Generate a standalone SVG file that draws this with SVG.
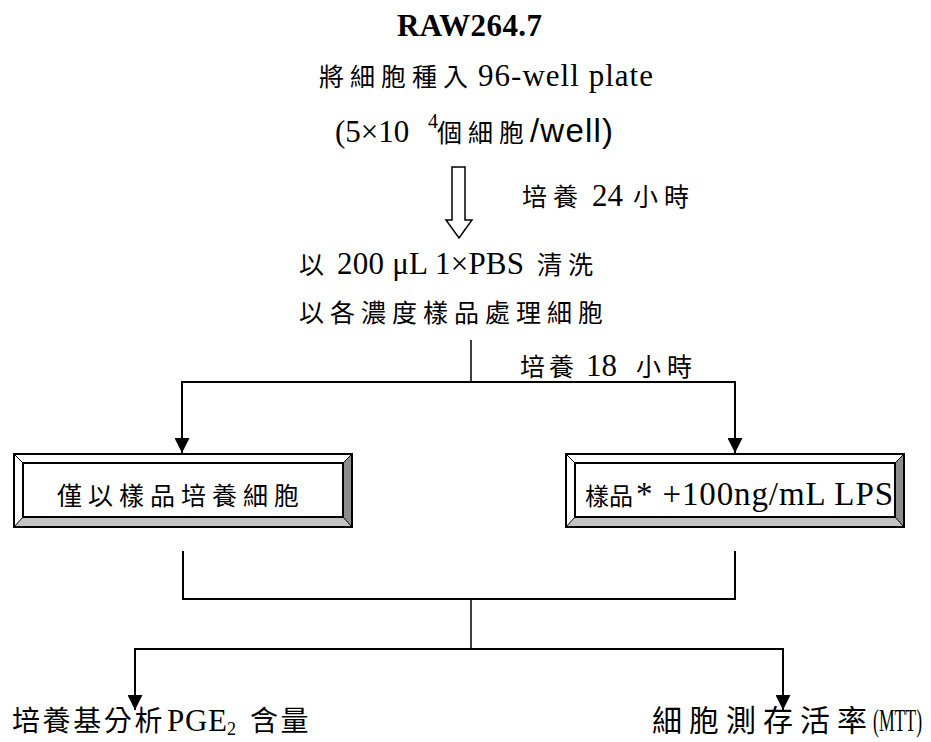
<svg xmlns="http://www.w3.org/2000/svg" width="931" height="742" viewBox="0 0 931 742">
<style>
text{font-family:"Liberation Serif","Noto Sans CJK TC",serif;font-size:31px;fill:#000}
.c{font-family:"Noto Sans CJK TC","Noto Sans CJK SC",sans-serif;font-size:25px;letter-spacing:6px}
.s{font-family:"Liberation Sans",Arial,sans-serif}
.b{font-weight:bold}
.ln{fill:none;stroke:#000;stroke-width:2}
.thin{fill:none;stroke:#000;stroke-width:1.5}
</style>
<defs>
<marker id="ah" markerWidth="15" markerHeight="15" refX="15" refY="7.5" orient="auto" markerUnits="userSpaceOnUse">
<path d="M0,0 L15,7.5 L0,15 Z" fill="#000"/>
</marker>
<g id="bevel">
<polygon points="0,0 338,0 329,9 9,9" fill="#fff"/>
<polygon points="0,0 9,9 9,63 0,73" fill="#fff"/>
<polygon points="338,0 338,73 329,63 329,9" fill="#8c8c8c"/>
<polygon points="0,73 338,73 329,63 9,63" fill="#c4c4c4"/>
<rect x="0" y="0" width="338" height="73" fill="none" stroke="#000" stroke-width="2"/>
<rect x="9" y="9" width="320" height="54" fill="#fff" stroke="#000" stroke-width="2"/>
<path d="M0,0 L9,9 M338,0 L329,9 M0,73 L9,63 M338,73 L329,63" stroke="#000" stroke-width="1"/>
</g>
</defs>

<g id="title">
<text class="b" x="397" y="36" textLength="145">RAW264.7</text>
</g>

<g id="seed">
<text x="319" y="86"><tspan class="c">將細胞種入</tspan><tspan x="478" textLength="175">96-well plate</tspan></text>
<text x="335" y="142">(5×10<tspan x="428" y="128" font-size="20">4</tspan><tspan class="c" x="437" y="142">個細胞</tspan><tspan class="s" x="530" y="142" font-size="33" textLength="83">/well)</tspan></text>
</g>

<g id="wash">
<text x="299" y="274"><tspan class="c">以</tspan><tspan x="337" textLength="187">200 μL 1×PBS</tspan><tspan class="c" x="537">清洗</tspan></text>
<text x="299" y="322"><tspan class="c">以各濃度樣品處理細胞</tspan></text>
</g>

<g id="label24">
<text x="522" y="206"><tspan class="c">培養</tspan><tspan x="592">24</tspan><tspan class="c" x="633">小時</tspan></text>
</g>

<g id="label18">
<text x="520" y="376"><tspan class="c" style="letter-spacing:4px">培養</tspan><tspan x="586">18</tspan><tspan class="c" x="636">小時</tspan></text>
</g>

<g id="box-sample">
<use href="#bevel" x="14" y="454"/>
<text x="57" y="505"><tspan class="c">僅以樣品培養細胞</tspan></text>
</g>

<g id="box-lps">
<use href="#bevel" x="566" y="454"/>
<text x="585" y="505"><tspan class="c" style="font-size:24px;letter-spacing:0px">樣品</tspan><tspan x="636" font-size="33" textLength="257">* +100ng/mL LPS</tspan></text>
</g>

<g id="pge2">
<text x="12" y="731"><tspan class="c" style="font-size:28px;letter-spacing:2.6px">培養基分析</tspan><tspan x="167" textLength="60">PGE</tspan><tspan x="227" y="735" font-size="18">2</tspan><tspan class="c" x="250" y="731" style="font-size:28px;letter-spacing:2.6px">含量</tspan></text>
</g>

<g id="mtt">
<text x="652" y="731"><tspan class="c" style="font-size:30px;letter-spacing:7px">細胞測存活率</tspan></text>
<text transform="translate(873,731) scale(0.57,1)" font-size="33">(MTT)</text>
</g>

<g id="connectors">
<polygon points="452,167 465,167 465,220 472,220 459,238 446,220 452,220" fill="#fff" stroke="#000" stroke-width="1.5"/>
<line class="thin" x1="471" y1="340" x2="471" y2="382"/>
<path class="ln" d="M182,453 V382 H735 V453"/>
<line class="ln" x1="182" y1="382" x2="182" y2="453" marker-end="url(#ah)"/>
<line class="ln" x1="735" y1="382" x2="735" y2="453" marker-end="url(#ah)"/>
<path class="ln" d="M183,551 V599 H735 V551"/>
<line class="thin" x1="471" y1="599" x2="471" y2="649"/>
<line class="ln" x1="135" y1="649" x2="783" y2="649"/>
<line class="ln" x1="135" y1="648" x2="135" y2="710" marker-end="url(#ah)"/>
<line class="ln" x1="783" y1="648" x2="783" y2="710" marker-end="url(#ah)"/>
</g>
</svg>
